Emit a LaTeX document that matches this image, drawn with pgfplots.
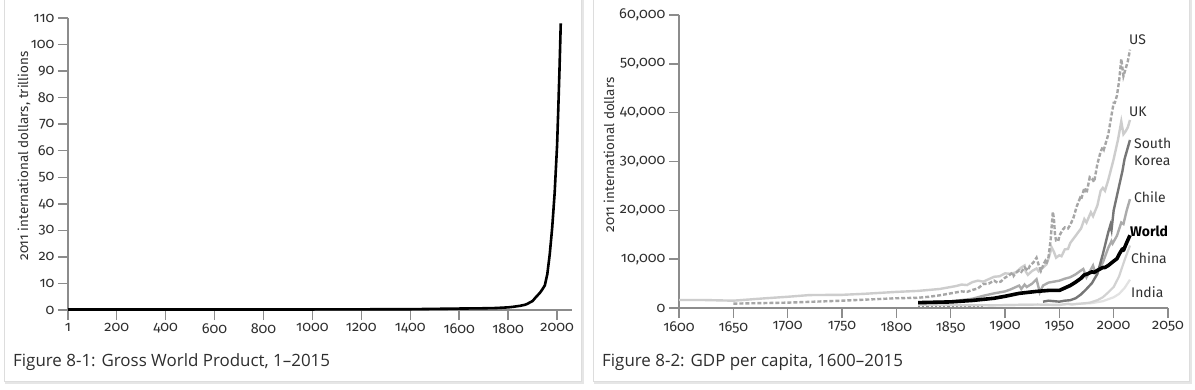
\documentclass[border=0pt]{standalone}
\usepackage{fontspec}
\usepackage{pgfplots}
\pgfplotsset{compat=1.18}
\setmainfont{Open Sans}
\newfontfamily\tickfont[Numbers=OldStyle]{Fira Sans}
\newfontfamily\labfont{Fira Sans}
\definecolor{axgray}{HTML}{8C8C8C}
\definecolor{txt}{HTML}{2E2E2E}
\definecolor{ukc}{HTML}{CDCDCD}
\definecolor{usc}{HTML}{A6A6A6}
\definecolor{skc}{HTML}{767676}
\definecolor{clc}{HTML}{ABABAB}
\definecolor{cnc}{HTML}{D2D2D2}
\definecolor{inc}{HTML}{E2E2E2}
\definecolor{cardline}{HTML}{DDDDDD}
\definecolor{shadow}{HTML}{E6E6E6}

\pgfplotsset{mystyle/.style={
  scale only axis, axis lines=left,
  axis line style={axgray, line width=1.8bp, -},
  tick style={axgray, line width=1.5bp},
  major tick length=10bp, tick align=outside,
  tick label style={font=\tickfont\fontsize{14.5}{14.5}\selectfont, text=txt},
  /pgf/number format/assume math mode=true,
  clip=false}}

\begin{document}
\begin{tikzpicture}[x=1bp,y=-1bp]
\useasboundingbox (0,0) rectangle (1195,389);
\fill[white] (0,0) rectangle (1195,389);
% cards
\fill[shadow] (5,-10) rectangle (583.5,383.5);
\filldraw[fill=white, draw=cardline, line width=0.8bp] (4,-10) rectangle (581,381);
\fill[shadow] (594,-10) rectangle (1191.5,383.5);
\filldraw[fill=white, draw=cardline, line width=0.8bp] (593,-10) rectangle (1189,381);

% ---------- Left chart ----------
\begin{axis}[mystyle,
  at={(68bp,-310bp)}, anchor=south west,
  width=504bp, height=292bp,
  xmin=1, xmax=2061, ymin=0, ymax=110,
  xtick={1,200,400,600,800,1000,1200,1400,1600,1800,2000},
  ytick={0,10,...,110},
  /pgf/number format/1000 sep={},
  ]
\addplot[black, line width=2.6bp, line join=round] coordinates {
(1,0.18) (200,0.19) (400,0.19) (600,0.2) (800,0.2) (1000,0.21) (1200,0.25)
(1300,0.3) (1400,0.3) (1500,0.43) (1600,0.55) (1700,0.65) (1750,0.75)
(1800,1.0) (1820,1.2) (1850,1.6) (1870,2.0) (1880,2.4) (1900,3.4) (1913,4.8)
(1930,6.5) (1940,7.8) (1950,9.3) (1960,13.5) (1970,21) (1980,31) (1990,44)
(2000,62) (2005,76) (2010,91) (2015,108)};
\end{axis}

% ---------- Right chart ----------
\begin{axis}[mystyle,
  at={(679bp,-308bp)}, anchor=south west,
  width=489bp, height=293bp,
  xmin=1600, xmax=2050, ymin=0, ymax=60000,
  xtick={1600,1650,...,2050},
  ytick={0,10000,...,60000},
  scaled y ticks=false,
  xticklabel style={/pgf/number format/1000 sep={}},
  yticklabel style={/pgf/number format/1000 sep={,}},
  ]
% India
\addplot[inc, line width=2.2bp] coordinates {
(1884,500) (1900,600) (1913,650) (1930,700) (1950,650) (1960,800) (1970,900)
(1980,1000) (1990,1400) (2000,2200) (2005,2900) (2010,4100) (2015,5800)};
\addplot[axgray, line width=2.2bp, dotted] coordinates {(1820,450) (1880,450)};
% China
\addplot[cnc, line width=2.2bp] coordinates {
(1820,650) (1850,600) (1870,550) (1900,600) (1913,650) (1930,700) (1950,600)
(1958,900) (1961,700) (1970,900) (1978,1100) (1985,1600) (1990,2200)
(1995,3200) (2000,4300) (2005,6500) (2010,9800) (2015,12800)};
% UK
\addplot[ukc, line width=2.4bp] coordinates {
(1600,1650) (1620,1650) (1650,1500) (1680,2000) (1700,2300) (1720,2650)
(1750,2700) (1770,2900) (1800,3300) (1820,3500) (1830,3700) (1840,3900)
(1850,4300) (1855,4500) (1860,4800) (1865,4700) (1870,5300) (1875,5600) (1880,5400) (1885,5900)
(1890,6400) (1895,6500) (1900,7100) (1905,7000) (1910,7300) (1913,7900)
(1915,8300) (1918,8700) (1919,7500) (1921,6800) (1925,7600) (1929,8100)
(1931,7500) (1935,8300) (1938,8900) (1940,10100) (1943,12400) (1945,11500)
(1947,10300) (1950,10800) (1952,10600) (1955,12000) (1958,12100) (1960,13300) (1965,14800) (1970,16300)
(1973,18200) (1975,17500) (1979,19600) (1981,18800) (1985,21000) (1988,24000)
(1990,24600) (1992,24000) (1995,26200) (2000,30500) (2004,34500) (2007,38200)
(2009,35600) (2011,36200) (2013,37000) (2015,38500)};
% Chile
\addplot[clc, line width=2.4bp] coordinates {
(1820,1100) (1850,1350) (1870,1900) (1880,2500) (1890,3000) (1900,3400)
(1905,3800) (1910,4300) (1913,4600) (1915,3900) (1918,4800) (1920,4300)
(1925,5000) (1929,5900) (1932,3200) (1935,4600) (1940,5200) (1945,5400)
(1950,5600) (1955,6000) (1960,6300) (1965,6900) (1970,7700) (1972,8000)
(1975,6300) (1978,7500) (1981,8700) (1983,7200) (1985,7500) (1990,9300)
(1995,12300) (1998,13700) (1999,13200) (2003,14800) (2007,17500)
(2009,17200) (2012,20000) (2015,22300)};
% US
\addplot[usc, line width=2.4bp, dash pattern=on 4bp off 2bp] coordinates {
(1650,900) (1700,1100) (1750,1500) (1800,2000) (1820,2100) (1830,2300)
(1840,2600) (1850,3000) (1860,3400) (1865,3300) (1870,3700) (1875,4000)
(1880,4900) (1885,5000) (1890,5600) (1893,5200) (1896,5400) (1900,6200)
(1905,6900) (1907,7300) (1908,6600) (1910,7200) (1913,7700) (1915,7400)
(1918,8300) (1921,7700) (1923,8700) (1926,9300) (1929,10300) (1931,8800)
(1933,7600) (1936,9200) (1937,9600) (1938,9000) (1940,10400) (1942,14000)
(1944,19700) (1945,18300) (1946,15000) (1947,13800) (1949,13700) (1950,14800)
(1953,16000) (1955,16500) (1958,16300) (1960,17000) (1963,18500) (1966,20800)
(1969,22500) (1970,22200) (1973,24600) (1975,23500) (1978,26800) (1980,26500)
(1982,25800) (1985,29500) (1988,32000) (1990,33000) (1991,32500) (1995,35500)
(1998,39500) (2000,42000) (2001,42000) (2003,43500) (2005,46500) (2007,51000)
(2009,47500) (2011,49000) (2013,50500) (2015,52900)};
% South Korea
\addplot[skc, line width=2.4bp] coordinates {
(1935,1300) (1940,1500) (1950,1300) (1955,1500) (1960,1600) (1965,2000)
(1970,2800) (1975,3900) (1980,5100) (1985,7000) (1990,11000) (1995,15500)
(1997,17000) (1998,16000) (2000,20000) (2005,25000) (2008,28000)
(2010,30500) (2015,34400)};
% World
\addplot[black, line width=3.6bp, line join=round] coordinates {
(1820,1100) (1850,1250) (1870,1550) (1890,2000) (1900,2400) (1913,3000)
(1929,3400) (1940,3600) (1950,3600) (1955,4100) (1960,4600) (1965,5300)
(1970,6100) (1973,6800) (1975,6900) (1980,7400) (1982,7300) (1985,7700)
(1990,8300) (1992,8300) (1995,8700) (2000,9600) (2003,10100) (2005,11000)
(2008,12100) (2009,11800) (2012,13400) (2015,14900)};
\end{axis}

% axis titles
\node[rotate=90, text=txt, font=\tickfont\fontsize{13.5}{13.5}\selectfont] at (24,156) {2011 international dollars, trillions};
\node[rotate=90, text=txt, font=\tickfont\fontsize{13.5}{13.5}\selectfont] at (609,155) {2011 international dollars};

% series labels
\begin{scope}[every node/.style={anchor=west, inner sep=0pt, text=txt, font=\labfont\fontsize{14}{17.5}\selectfont}]
\node at (1129,40) {US};
\node at (1129,112) {UK};
\node[align=left] at (1134,152) {South\\Korea};
\node at (1134,197) {Chile};
\node[font=\labfont\bfseries\fontsize{14}{15}\selectfont, text=black] at (1130,231) {World};
\node at (1131,258) {China};
\node at (1131,292) {India};
\end{scope}

% captions
\node[anchor=west, inner sep=0pt, text=txt, font=\fontsize{17}{18}\selectfont] at (13,362) {Figure 8-1: Gross World Product, 1–2015};
\node[anchor=west, inner sep=0pt, text=txt, font=\fontsize{17}{18}\selectfont] at (602,362) {Figure 8-2: GDP per capita, 1600–2015};
\end{tikzpicture}
\end{document}
